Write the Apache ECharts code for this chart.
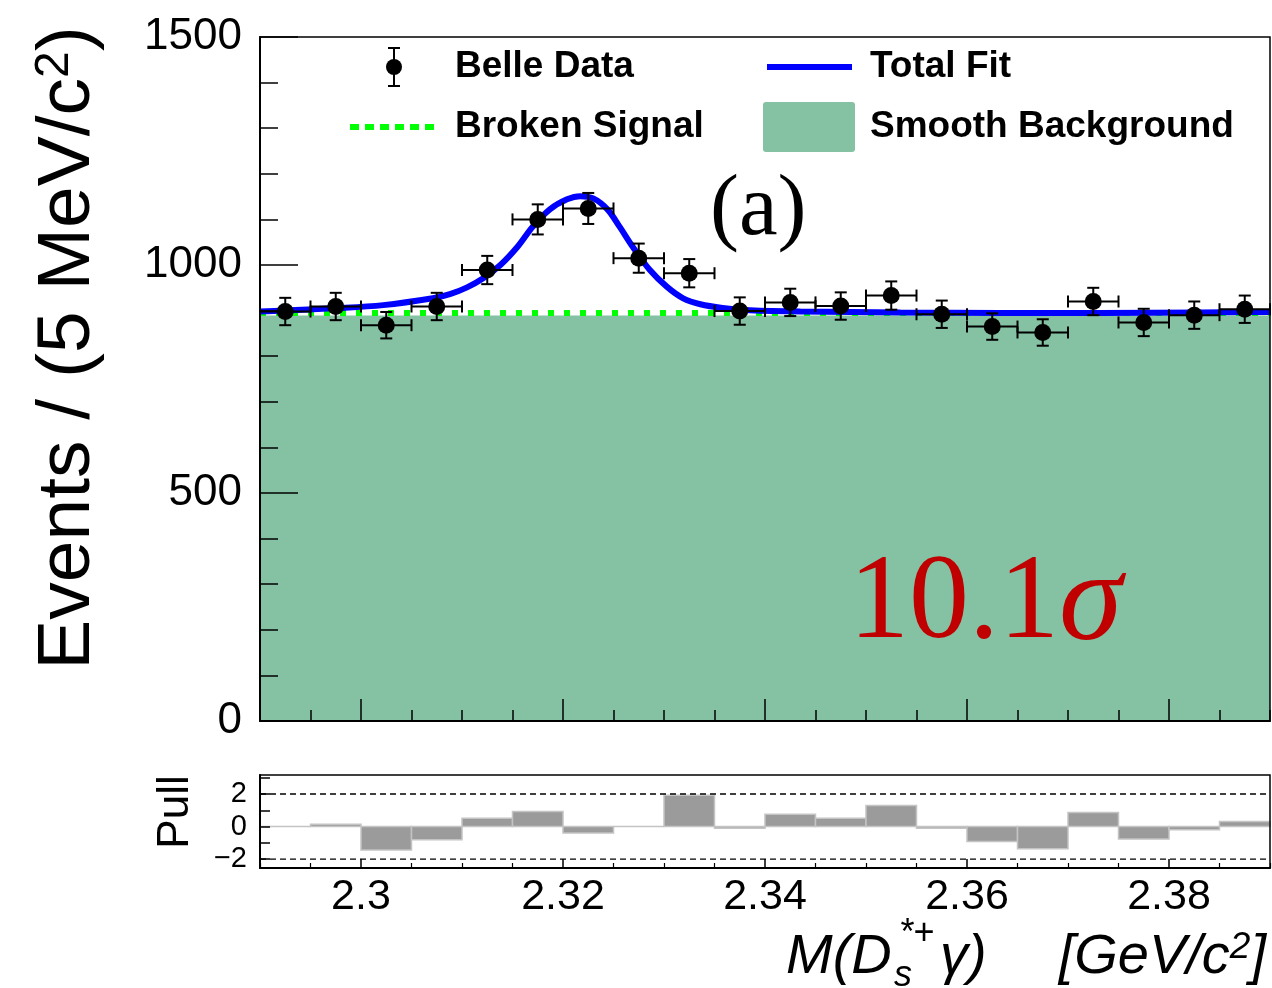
<!DOCTYPE html>
<html><head><meta charset="utf-8">
<script src="https://cdn.jsdelivr.net/npm/echarts@6/dist/echarts.min.js"></script>
<style>html,body{margin:0;padding:0;background:#fff}#c{width:1272px;height:988px}</style>
</head><body><div id="c"></div>
<script>
// ---------------- data ----------------
const binCenters = [2.2925,2.2975,2.3025,2.3075,2.3125,2.3175,2.3225,2.3275,2.3325,2.3375,2.3425,2.3475,2.3525,2.3575,2.3625,2.3675,2.3725,2.3775,2.3825,2.3875];
const binHalfWidth = 0.0025;
const counts = [898,909,868,909,989,1100,1124,1015,982,899,918,910,933,892,865,852,920,874,890,903];
const countErrors = [30,30,29,30,31,33,34,32,31,30,30,30,31,30,29,29,30,30,30,30];
const fitX = [2.2900,2.2923,2.2972,2.3022,2.3071,2.3088,2.3105,2.3121,2.3138,2.3155,2.3170,2.3187,2.3204,2.3217,2.3230,2.3244,2.3256,2.3269,2.3286,2.3303,2.3319,2.3336,2.3358,2.3385,2.3435,2.3534,2.3633,2.3732,2.3831,2.3900];
const fitY = [898,900,905,912,927,936,951,971,1000,1040,1084,1122,1144,1151,1146,1122,1084,1040,989,952,927,914,906,901,898,896,895,895,896,897];
const backgroundX = [2.29,2.34,2.39];
const backgroundY = [889,889,889];
const brokenX = [2.29,2.39];
const brokenY = [895,895];
const pulls = [0.0,0.14,-1.44,-0.82,0.51,0.92,-0.39,0.0,1.93,-0.1,0.76,0.51,1.29,-0.1,-0.92,-1.37,0.86,-0.76,-0.2,0.31];
const pullBandLevels = [2,-2];
const xMajorTicks = [2.30,2.32,2.34,2.36,2.38];
const xMinorTicks = [2.29,2.295,2.305,2.31,2.315,2.325,2.33,2.335,2.345,2.35,2.355,2.365,2.37,2.375,2.385,2.39];
const xTickLabels = ['2.3','2.32','2.34','2.36','2.38'];
const pullTicks = [-2,-1,0,1,2,3];
const pullLabelValues = [-2,0,2];

// ---------------- chart ----------------
const chart = echarts.init(document.getElementById('c'), null, {renderer:'canvas'});
const SANS = '"Liberation Sans", Arial, Helvetica, sans-serif';
const SERIF = '"Liberation Serif", "Times New Roman", serif';
const GREEN_FILL = '#85c1a3';
const X_MIN = 2.29, X_MAX = 2.39;

function xLabel(v){
  let best = 0, d = 1e9;
  xMajorTicks.forEach((t,i)=>{ if (Math.abs(t-v) < d){ d = Math.abs(t-v); best = i; } });
  return xTickLabels[best];
}

const baseX = {type:'value', min:X_MIN, max:X_MAX, position:'bottom', z:10,
  splitLine:{show:false}, axisLine:{show:true, onZero:false, lineStyle:{color:'#000', width:2}}};

const italic = (size)=>({fontFamily:SANS, fontStyle:'italic', fontSize:size, fill:'#000', verticalAlign:'middle'});

const option = {
  animation:false,
  backgroundColor:'#fff',
  grid:[
    {left:260, top:37, width:1010, height:684, show:true, borderColor:'#000', borderWidth:1.5, z:10},
    {left:260, top:775, width:1010, height:93, show:true, borderColor:'#000', borderWidth:1.5, z:10}
  ],
  xAxis:[
    Object.assign({}, baseX, {gridIndex:0, axisLabel:{show:false},
      axisTick:{show:true, inside:true, length:22, customValues:xMajorTicks, lineStyle:{color:'#000', width:1.5}}}),
    Object.assign({}, baseX, {gridIndex:0, axisLabel:{show:false}, axisLine:{show:false, onZero:false},
      axisTick:{show:true, inside:true, length:11, customValues:xMinorTicks, lineStyle:{color:'#000', width:1.5}}}),
    Object.assign({}, baseX, {gridIndex:1,
      axisLabel:{show:true, customValues:xMajorTicks, formatter:xLabel, fontFamily:SANS, fontSize:43, color:'#000', margin:8},
      axisTick:{show:true, inside:true, length:9, customValues:xMajorTicks, lineStyle:{color:'#000', width:1.5}}}),
    Object.assign({}, baseX, {gridIndex:1, axisLabel:{show:false}, axisLine:{show:false, onZero:false},
      axisTick:{show:true, inside:true, length:5, customValues:xMinorTicks, lineStyle:{color:'#000', width:1.2}}})
  ],
  yAxis:[
    {type:'value', gridIndex:0, min:0, max:1500, interval:500, z:10,
      splitLine:{show:false},
      axisLine:{show:true, lineStyle:{color:'#000', width:2}},
      axisTick:{show:true, inside:true, length:38, lineStyle:{color:'#000', width:1.5}},
      minorTick:{show:true, splitNumber:5, length:18, lineStyle:{color:'#000', width:1.5}},
      axisLabel:{formatter:v=>String(v), fontFamily:SANS, fontSize:44, color:'#000', margin:18}},
    {type:'value', gridIndex:1, min:-2.55, max:3.17, z:10,
      splitLine:{show:false},
      axisLine:{show:true, onZero:false, lineStyle:{color:'#000', width:2}},
      axisTick:{show:true, inside:true, length:10, customValues:pullTicks, lineStyle:{color:'#000', width:1.5}},
      axisLabel:{customValues:pullLabelValues, formatter:v=>String(v).replace('-','\u2212'),
        fontFamily:SANS, fontSize:29, color:'#000', margin:13}}
  ],
  series:[
    {name:'Smooth Background', type:'line', xAxisIndex:0, yAxisIndex:0, z:2,
      data:backgroundX.map((x,i)=>[x, backgroundY[i]]), showSymbol:false, symbol:'none',
      lineStyle:{width:0, color:GREEN_FILL}, areaStyle:{color:GREEN_FILL, opacity:1, origin:'start'}},
    {name:'Broken Signal', type:'line', xAxisIndex:0, yAxisIndex:0, z:3,
      data:brokenX.map((x,i)=>[x, brokenY[i]]), symbol:'none',
      lineStyle:{color:'#00ff00', width:6, type:[6,10], cap:'butt'}},
    {name:'Total Fit', type:'line', xAxisIndex:0, yAxisIndex:0, z:4,
      data:fitX.map((x,i)=>[x, fitY[i]]), symbol:'none', smooth:0.35,
      lineStyle:{color:'#0000ff', width:6}},
    {name:'Belle Data errors', type:'custom', xAxisIndex:0, yAxisIndex:0, z:5,
      data:binCenters.map((x,i)=>[x, counts[i], countErrors[i]]),
      encode:{x:0, y:1},
      renderItem:function(params, api){
        const x = api.value(0), y = api.value(1), e = api.value(2);
        const l = api.coord([x-binHalfWidth, y]), r = api.coord([x+binHalfWidth, y]);
        const t = api.coord([x, y+e]), b = api.coord([x, y-e]);
        const cap = 6;
        const st = {stroke:'#000', lineWidth:2};
        return {type:'group', children:[
          {type:'line', shape:{x1:l[0], y1:l[1], x2:r[0], y2:r[1]}, style:st},
          {type:'line', shape:{x1:l[0], y1:l[1]-cap, x2:l[0], y2:l[1]+cap}, style:st},
          {type:'line', shape:{x1:r[0], y1:r[1]-cap, x2:r[0], y2:r[1]+cap}, style:st},
          {type:'line', shape:{x1:t[0], y1:t[1], x2:b[0], y2:b[1]}, style:st},
          {type:'line', shape:{x1:t[0]-cap, y1:t[1], x2:t[0]+cap, y2:t[1]}, style:st},
          {type:'line', shape:{x1:b[0]-cap, y1:b[1], x2:b[0]+cap, y2:b[1]}, style:st}
        ]};
      }},
    {name:'Belle Data', type:'scatter', xAxisIndex:0, yAxisIndex:0, z:6,
      data:binCenters.map((x,i)=>[x, counts[i]]), symbol:'circle', symbolSize:17,
      itemStyle:{color:'#000', opacity:1}},
    {name:'Pull', type:'custom', xAxisIndex:2, yAxisIndex:1, z:3,
      data:binCenters.map((x,i)=>[x, pulls[i]]),
      encode:{x:0, y:1},
      renderItem:function(params, api){
        const x = api.value(0), p = api.value(1);
        const a = api.coord([x-binHalfWidth, 0]), b = api.coord([x+binHalfWidth, p]);
        return {type:'rect', shape:{x:a[0], y:Math.min(a[1],b[1]), width:b[0]-a[0], height:Math.abs(b[1]-a[1])},
          style:{fill:'#9b9b9b', stroke:'#c4c4c4', lineWidth:1.5}};
      }},
    {name:'Pull bands', type:'custom', xAxisIndex:2, yAxisIndex:1, z:4,
      data:pullBandLevels.map(v=>[X_MIN, v]),
      encode:{x:0, y:1},
      renderItem:function(params, api){
        const v = api.value(1);
        const a = api.coord([X_MIN, v]), b = api.coord([X_MAX, v]);
        return {type:'line', shape:{x1:a[0], y1:a[1], x2:b[0], y2:b[1]},
          style:{stroke:'#000', lineWidth:1.3, lineDash:[6,4]}};
      }}
  ],
  graphic:[
    // axis titles
    {type:'text', x:68, y:348, rotation:Math.PI/2, z:20,
      style:{text:'{a|Events / (5 MeV/c}{s|2}{a|)}', align:'center', verticalAlign:'middle', fill:'#000',
        rich:{a:{fontFamily:SANS, fontSize:75, fill:'#000', verticalAlign:'bottom'},
              s:{fontFamily:SANS, fontSize:48, fill:'#000', verticalAlign:'top'}}}},
    {type:'text', x:176, y:812, rotation:Math.PI/2, z:20,
      style:{text:'Pull', align:'center', verticalAlign:'middle', fill:'#000', fontFamily:SANS, fontSize:44}},
    // x title pieces: M(D_s^{*+}gamma)   [GeV/c^2]
    {type:'text', z:20, x:786, y:957, style:Object.assign({text:'M(D', align:'left'}, italic(56))},
    {type:'text', z:20, x:899, y:934, style:Object.assign({text:'*+', align:'left'}, italic(36))},
    {type:'text', z:20, x:894, y:976, style:Object.assign({text:'s', align:'left'}, italic(36))},
    {type:'text', z:20, x:940, y:957, style:Object.assign({text:'\u03b3)', align:'left'}, italic(56))},
    {type:'text', z:20, x:1266, y:957, style:{text:'{i|[GeV/c}{p|2}{i|]}', align:'right', verticalAlign:'middle', fill:'#000',
        rich:{i:{fontFamily:SANS, fontStyle:'italic', fontSize:56, fill:'#000', verticalAlign:'bottom'},
              p:{fontFamily:SANS, fontStyle:'italic', fontSize:37, fill:'#000', verticalAlign:'top'}}}},
    // legend
    {type:'line', z:20, shape:{x1:394, y1:48, x2:394, y2:86}, style:{stroke:'#000', lineWidth:2}},
    {type:'line', z:20, shape:{x1:388, y1:48, x2:400, y2:48}, style:{stroke:'#000', lineWidth:2}},
    {type:'line', z:20, shape:{x1:388, y1:86, x2:400, y2:86}, style:{stroke:'#000', lineWidth:2}},
    {type:'circle', z:20, shape:{cx:394, cy:67, r:8}, style:{fill:'#000'}},
    {type:'text', z:20, x:455, y:67, style:{text:'Belle Data', fontFamily:SANS, fontWeight:'bold', fontSize:37, fill:'#000', verticalAlign:'middle'}},
    {type:'line', z:20, shape:{x1:767, y1:67, x2:852, y2:67}, style:{stroke:'#0000ff', lineWidth:6}},
    {type:'text', z:20, x:870, y:67, style:{text:'Total Fit', fontFamily:SANS, fontWeight:'bold', fontSize:37, fill:'#000', verticalAlign:'middle'}},
    {type:'line', z:20, shape:{x1:350, y1:127, x2:440, y2:127}, style:{stroke:'#00ff00', lineWidth:6, lineDash:[9,6]}},
    {type:'text', z:20, x:455, y:127, style:{text:'Broken Signal', fontFamily:SANS, fontWeight:'bold', fontSize:37, fill:'#000', verticalAlign:'middle'}},
    {type:'rect', z:20, shape:{x:763, y:102, width:92, height:50, r:3}, style:{fill:GREEN_FILL}},
    {type:'text', z:20, x:870, y:127, style:{text:'Smooth Background', fontFamily:SANS, fontWeight:'bold', fontSize:37, fill:'#000', verticalAlign:'middle'}},
    // annotations
    {type:'text', z:20, x:710, y:211, style:{text:'(a)', fontFamily:SERIF, fontSize:87, fill:'#000', verticalAlign:'middle'}},
    {type:'text', z:20, x:849, y:605, style:{text:'{n|10.1}{g|\u03c3}', verticalAlign:'middle',
      rich:{n:{fontFamily:SERIF, fontSize:120, fill:'#c00000'}, g:{fontFamily:SERIF, fontStyle:'italic', fontSize:128, fill:'#c00000'}}}}
  ]
};
chart.setOption(option);
</script></body></html>
